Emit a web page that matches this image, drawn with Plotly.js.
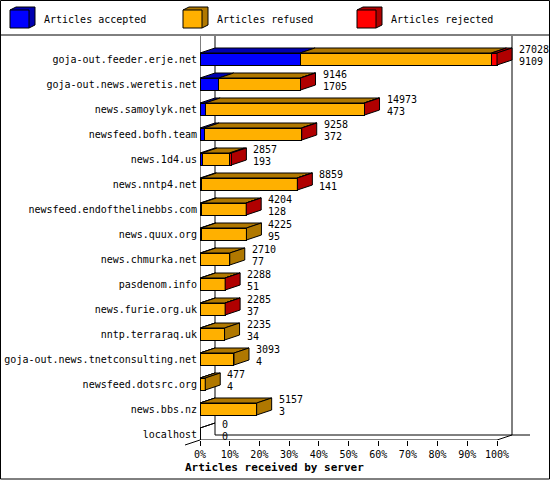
<!DOCTYPE html>
<html>
<head>
<meta charset="utf-8">
<script src="https://cdn.plot.ly/plotly-3.0.1.min.js"></script>
<style>
  body { margin: 0; background: #fff; }
  #chart { width: 550px; height: 480px; }
</style>
</head>
<body>
<div id="chart"></div>
<script>
// servers, top to bottom
var servers = ['goja-out.feeder.erje.net', 'goja-out.news.weretis.net', 'news.samoylyk.net',
  'newsfeed.bofh.team', 'news.1d4.us', 'news.nntp4.net', 'newsfeed.endofthelinebbs.com',
  'news.quux.org', 'news.chmurka.net', 'pasdenom.info', 'news.furie.org.uk',
  'nntp.terraraq.uk', 'goja-out.news.tnetconsulting.net', 'newsfeed.dotsrc.org',
  'news.bbs.nz', 'localhost'];
var totals   = [27028, 9146, 14973, 9258, 2857, 8859, 4204, 4225, 2710, 2288, 2285, 2235, 3093, 477, 5157, 0];
var accepted = [9109, 1705, 473, 372, 193, 141, 128, 95, 77, 51, 37, 34, 4, 4, 3, 0];
var refused  = [17409, 7421, 14470, 8871, 2494, 8698, 4061, 4130, 2633, 2227, 2238, 2201, 3089, 473, 5154, 0];
var rejected = [510, 20, 30, 15, 170, 20, 15, 0, 0, 10, 10, 0, 0, 0, 0, 0];

var seriesNames = ['Articles accepted', 'Articles refused', 'Articles rejected'];
var front = ['#0000ff', '#ffb000', '#ff0000'];
var dark  = ['#0000b0', '#b07800', '#b00000'];

// plot geometry (px)
var L = 200, T = 36, W = 330, H = 404;
var PXX = 2.97, PXY = 25;
var DX = 15 / PXX, DY = 5 / PXY, HALF = 6 / PXY;
var maxTotal = Math.max.apply(null, totals);

function px(x) { return (x - L) / W; }
function py(y) { return (T + H - y) / H; }

var rows = servers.map(function (s, i) { return servers.length - 1 - i; });
var segs = [accepted, refused, rejected];
var pct = segs.map(function (a) { return a.map(function (v) { return v / maxTotal * 100; }); });

// top and side faces
var topX = [[], [], []], topY = [[], [], []];
var sideX = [[], [], []], sideY = [[], [], []];
rows.forEach(function (yv, i) {
  var yt = yv + HALF, yb = yv - HALF;
  var x0 = 0, last = -1;
  for (var k = 0; k < 3; k++) {
    var w = pct[k][i];
    if (w > 0) {
      var x1 = x0 + w;
      topX[k].push(x0, x1, x1 + DX, x0 + DX, x0, null);
      topY[k].push(yt, yt, yt + DY, yt + DY, yt, null);
      x0 = x1;
      last = k;
    }
  }
  if (last >= 0) {
    sideX[last].push(x0, x0, x0 + DX, x0 + DX, x0, null);
    sideY[last].push(yb, yt, yt + DY, yb + DY, yb, null);
  } else {
    topX[1].push(0, DX, 0, null);
    topY[1].push(yt, yt + DY, yt, null);
  }
});

var data = [];
for (var k = 0; k < 3; k++) {
  data.push({
    type: 'bar', orientation: 'h', name: seriesNames[k],
    y: rows, x: pct[k], width: 12 / PXY,
    marker: { color: front[k], line: { color: '#000', width: 1 } },
    hoverinfo: 'skip', showlegend: false
  });
}
for (var k = 0; k < 3; k++) {
  data.push({
    type: 'scatter', mode: 'lines', x: topX[k], y: topY[k], fill: 'toself',
    fillcolor: dark[k], line: { color: '#000', width: 1 }, hoverinfo: 'skip', showlegend: false
  });
  data.push({
    type: 'scatter', mode: 'lines', x: sideX[k], y: sideY[k], fill: 'toself',
    fillcolor: dark[k], line: { color: '#000', width: 1 }, hoverinfo: 'skip', showlegend: false
  });
}

var mono = 'DejaVu Sans Mono, monospace';
var annotations = [];
rows.forEach(function (yv, i) {
  var xt = totals[i] / maxTotal * 100 + DX + 5 / PXX;
  annotations.push({ x: xt, y: yv + 10 / PXY, text: String(totals[i]), xanchor: 'left', yanchor: 'middle',
    showarrow: false, font: { family: mono, size: 10, color: '#000' } });
  annotations.push({ x: xt, y: yv - 2 / PXY, text: String(accepted[i]), xanchor: 'left', yanchor: 'middle',
    showarrow: false, font: { family: mono, size: 10, color: '#000' } });
});

// legend boxes
var legX = [10, 183, 357];
var shapes = [];
legX.forEach(function (x, k) {
  var x1 = x + 19, y0 = 10, y1 = 28, dx = 6, dy = 3;
  shapes.push({ type: 'path', xref: 'paper', yref: 'paper', fillcolor: dark[k], line: { color: '#000', width: 1 },
    path: 'M' + px(x) + ',' + py(y0) + 'L' + px(x + dx) + ',' + py(y0 - dy) + 'L' + px(x1 + dx) + ',' + py(y0 - dy) +
      'L' + px(x1 + dx) + ',' + py(y1 - dy) + 'L' + px(x1) + ',' + py(y1) + 'Z' });
  shapes.push({ type: 'rect', xref: 'paper', yref: 'paper', x0: px(x), x1: px(x1), y0: py(y0), y1: py(y1),
    fillcolor: front[k], line: { color: '#000', width: 1 } });
  annotations.push({ xref: 'paper', yref: 'paper', x: px(x + 32), y: py(20), text: seriesNames[k],
    xanchor: 'left', yanchor: 'middle', showarrow: false, font: { family: mono, size: 10, color: '#000' } });
});

var yFloor = -HALF, yBack = -HALF + DY, yTop = 15.92;
function seg(x0, y0, x1, y1) {
  return { type: 'line', xref: 'x', yref: 'y', x0: x0, y0: y0, x1: x1, y1: y1, layer: 'below',
    line: { color: '#000', width: 1 } };
}
shapes.push(seg(0, yFloor, 0, yTop));
shapes.push(seg(DX, yBack, DX, yTop));
shapes.push(seg(100 + DX, yBack, 100 + DX, yTop));
shapes.push(seg(0, yFloor, 100, yFloor));
shapes.push(seg(100, yFloor, 100 + DX, yBack));
shapes.push(seg(DX, yBack, 112, yBack));
// floor edge running into the left margin
shapes.push({ type: 'line', xref: 'paper', yref: 'paper', x0: px(185), y0: py(445), x1: px(200), y1: py(440),
  line: { color: '#000', width: 1 } });
// frame and legend separator
shapes.push({ type: 'rect', xref: 'paper', yref: 'paper', x0: px(0.5), x1: px(549.5), y0: py(0.5), y1: py(479),
  line: { color: '#000', width: 1 } });
shapes.push({ type: 'line', xref: 'paper', yref: 'paper', x0: px(0), x1: px(550), y0: py(35), y1: py(35),
  line: { color: '#000', width: 1 } });

annotations.push({ xref: 'paper', yref: 'paper', x: px(274), y: py(467), text: '<b>Articles received by server</b>',
  xanchor: 'center', yanchor: 'middle', showarrow: false, font: { family: mono, size: 11, color: '#000' } });

var tickv = [0, 10, 20, 30, 40, 50, 60, 70, 80, 90, 100];

var layout = {
  width: 550, height: 480,
  margin: { l: L, r: 550 - L - W, t: T, b: 480 - T - H },
  paper_bgcolor: '#fff', plot_bgcolor: '#fff',
  barmode: 'stack', showlegend: false,
  font: { family: mono, size: 10, color: '#000' },
  xaxis: {
    range: [0, W / PXX], tickvals: tickv, ticktext: tickv.map(function (v) { return v + '%'; }),
    ticks: 'outside', ticklen: 5, tickcolor: '#000', showline: false, showgrid: false, zeroline: false,
    tickfont: { family: mono, size: 10, color: '#000' }, fixedrange: true
  },
  yaxis: {
    range: [-HALF, yTop], tickvals: rows, ticktext: servers, ticks: '', showline: false,
    showgrid: false, zeroline: false, tickfont: { family: mono, size: 10, color: '#000' },
    ticklabelstandoff: 2, fixedrange: true
  },
  shapes: shapes,
  annotations: annotations
};

Plotly.newPlot('chart', data, layout, { displayModeBar: false, staticPlot: true });
</script>
</body>
</html>
